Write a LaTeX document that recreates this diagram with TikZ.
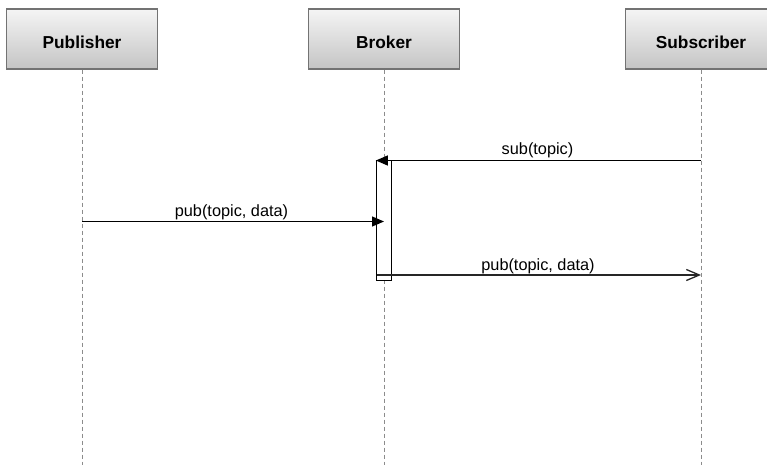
\documentclass[tikz,border=0pt]{standalone}
\usepackage{fontspec}
\setmainfont{Liberation Sans}
\usetikzlibrary{arrows.meta}
\begin{document}
\begin{tikzpicture}[x=1pt,y=-1pt,
  head/.style={draw=black!55, line width=1.2pt, top color=black!4, bottom color=black!23,
    minimum width=151pt, minimum height=60pt, inner sep=0pt,
    text height=20pt, text depth=0pt,
    font=\fontsize{17.3}{19}\selectfont\bfseries},
  lifeline/.style={draw=black!45, line width=1pt, dash pattern=on 4pt off 3pt},
  bar/.style={draw=black, fill=white, line width=1.3pt, minimum width=15pt,
    minimum height=120pt, inner sep=0pt},
  msg/.style={draw=black, line width=1.3pt},
  lbl/.style={font=\fontsize{16.3}{18}\selectfont, inner sep=0pt, anchor=base}]
\useasboundingbox (0,0) rectangle (767,465);
\clip (0,0) rectangle (767,465);

% participants
\node[head] (pub) at (82,39) {Publisher};
\node[head] (brk) at (384,39) {Broker};
\node[head] (sub) at (701,39) {Subscriber};

% lifeline ends
\coordinate (pubEnd) at (82,465);
\coordinate (brkEnd) at (384,465);
\coordinate (subEnd) at (701,465);
\draw[lifeline] (pub.south) -- (pubEnd);
\draw[lifeline] (brk.south) -- (brkEnd);
\draw[lifeline] (sub.south) -- (subEnd);

% activation of the broker
\node[bar] (act) at (384,220.5) {};

% message end points
\coordinate (subOut) at (701,160.5);
\coordinate (pubOut) at (82,221.5);
\coordinate (brkIn) at (384,221.5);
\coordinate (brkOut) at (376.5,275);
\coordinate (subIn) at (701,275);

% sub(topic)
\draw[msg, -{Triangle[length=12pt,width=10pt]}] (subOut) -- (act.north west |- subOut);
\node[lbl] (l1) at (537.5,155) {sub(topic)};

% pub(topic, data) to the broker
\draw[msg, -{Triangle[length=12pt,width=10pt]}] (pubOut) -- (brkIn);
\node[lbl] (l2) at (231.5,216.5) {pub(topic, data)};

% pub(topic, data) forwarded to the subscriber
\draw[msg, draw=black!85, -{Straight Barb[length=13pt,width=11pt,line width=1.3pt]}] (brkOut) -- (subIn);
\node[lbl] (l3) at (538,270) {pub(topic, data)};
\end{tikzpicture}
\end{document}
